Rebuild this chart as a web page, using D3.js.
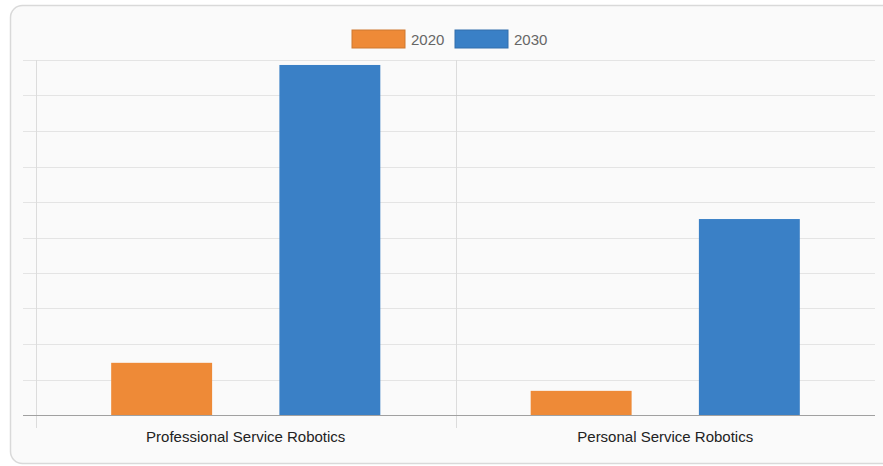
<!DOCTYPE html>
<html>
<head>
<meta charset="utf-8">
<script src="https://cdn.jsdelivr.net/npm/d3@7"></script>
<style>
  body { margin: 0; background: #fff; }
  svg { display: block; font-family: "Liberation Sans", Arial, sans-serif; }
</style>
</head>
<body>
<svg id="chart" width="883" height="466"></svg>
<script>
// chart data
var categories = ["Professional Service Robotics", "Personal Service Robotics"];
var seriesNames = ["2020", "2030"];
var values2020 = [1.47, 0.68];
var values2030 = [9.86, 5.52];
var colors = ["#ee8a37", "#3a80c6"];

const margin = { top: 60, right: 8, bottom: 51, left: 36 },
  width = 883 - margin.left - margin.right,
  height = 466 - margin.top - margin.bottom;

var svg = d3.select("#chart");

// card background
svg.append("rect")
  .attr("x", 10.5).attr("y", 5.5)
  .attr("width", 900).attr("height", 458)
  .attr("rx", 12)
  .attr("fill", "#fafafa")
  .attr("stroke", "#d9d9d9")
  .attr("stroke-width", 1.5);

var g = svg.append("g")
  .attr("transform", `translate(${margin.left},${margin.top})`);

// scales
const x = d3.scaleBand()
  .domain(categories)
  .range([0, 839]);

const xInner = d3.scaleBand()
  .domain(seriesNames)
  .range([0, x.bandwidth()])
  .paddingInner(0.4)
  .paddingOuter(0.447);

const y = d3.scaleLinear()
  .domain([0, 10])
  .range([355, 0]);

// horizontal grid lines (with little ticks on the left)
g.selectAll(".grid")
  .data(y.ticks(10).filter(d => d > 0))
  .join("line")
  .attr("class", "grid")
  .attr("x1", -13).attr("x2", 839)
  .attr("y1", d => Math.round(y(d)) + 0.5)
  .attr("y2", d => Math.round(y(d)) + 0.5)
  .attr("stroke", "#e4e4e4");

// vertical lines at category boundaries
g.selectAll(".vline")
  .data(categories)
  .join("line")
  .attr("class", "vline")
  .attr("x1", d => Math.round(x(d)) + 0.5)
  .attr("x2", d => Math.round(x(d)) + 0.5)
  .attr("y1", 0).attr("y2", 368)
  .attr("stroke", "#dcdcdc");

// bars
var rows = categories.map((c, i) => ({ category: c, values: [values2020[i], values2030[i]] }));

g.selectAll(".cat")
  .data(rows)
  .join("g")
  .attr("class", "cat")
  .attr("transform", d => `translate(${x(d.category)},0)`)
  .selectAll("rect")
  .data(d => d.values.map((v, j) => ({ key: seriesNames[j], value: v, color: colors[j] })))
  .join("rect")
  .attr("x", d => xInner(d.key))
  .attr("width", xInner.bandwidth())
  .attr("y", d => y(d.value))
  .attr("height", d => y(0) - y(d.value))
  .attr("fill", d => d.color);

// baseline
g.append("line")
  .attr("x1", -13).attr("x2", 839)
  .attr("y1", y(0) + 0.5).attr("y2", y(0) + 0.5)
  .attr("stroke", "#a0a0a0");

// category labels
g.selectAll(".xlabel")
  .data(categories)
  .join("text")
  .attr("class", "xlabel")
  .attr("x", d => x(d) + x.bandwidth() / 2)
  .attr("y", 382)
  .attr("text-anchor", "middle")
  .style("font-size", "15px")
  .attr("fill", "#222")
  .text(d => d);

// legend
var legend = svg.append("g").attr("transform", "translate(352,30)");
var legendItems = legend.selectAll("g")
  .data(seriesNames)
  .join("g")
  .attr("transform", (d, i) => `translate(${i * 103},0)`);

legendItems.append("rect")
  .attr("width", 53).attr("height", 18)
  .attr("fill", (d, i) => colors[i])
  .attr("stroke", (d, i) => d3.color(colors[i]).darker(0.4))
  .attr("stroke-width", 1);

legendItems.append("text")
  .attr("x", 59).attr("y", 15)
  .style("font-size", "15px")
  .attr("fill", "#666")
  .text(d => d);
</script>
</body>
</html>
